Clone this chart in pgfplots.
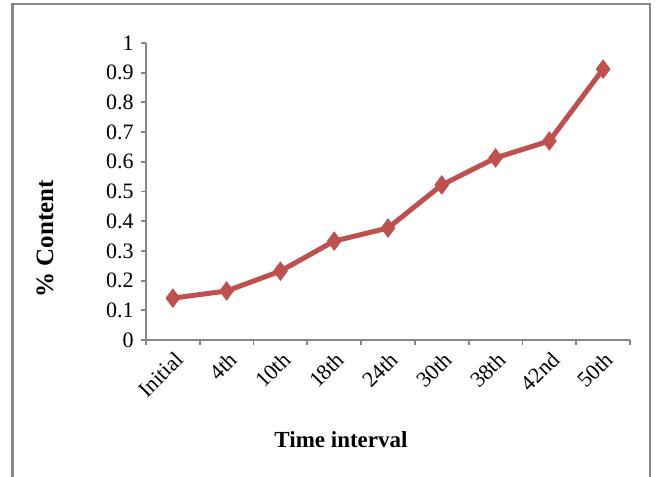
\documentclass[border=0pt]{standalone}
\usepackage{pgfplots}
\pgfplotsset{compat=1.18}
\usepackage{fontspec}
\setmainfont{Liberation Serif}
\definecolor{serred}{RGB}{192,80,77}
\definecolor{axgray}{RGB}{134,134,134}
\begin{document}
\begin{tikzpicture}[x=1pt,y=1pt]
\useasboundingbox (0,0) rectangle (328,238);
% outer chart frame
\draw[axgray, line width=1.1pt] (6.25,-10) -- (6.25,236) -- (325,236) -- (325,-10);
\begin{axis}[
  at={(73pt,68pt)}, anchor=south west,
  scale only axis,
  width=242pt, height=148.5pt,
  xmin=-0.5, xmax=8.5,
  ymin=0, ymax=1,
  axis lines*=left,
  axis line style={axgray, line width=0.9pt},
  xtick={0,...,8},
  xticklabels={Initial,4th,10th,18th,24th,30th,38th,42nd,50th},
  minor xtick={-0.5,0.5,...,8.5},
  major x tick style={draw=none},
  minor tick length=2.5pt,
  major tick length=2.5pt,
  x tick style={axgray, line width=0.9pt},
  y tick style={axgray, line width=0.9pt},
  tick align=outside,
  ytick={0,0.1,...,1},
  yticklabels={0,0.1,0.2,0.3,0.4,0.5,0.6,0.7,0.8,0.9,1},
  xticklabel style={rotate=45, anchor=north east, font=\fontsize{11}{13}\selectfont, inner sep=1pt, xshift=-0.5pt, yshift=-1pt},
  yticklabel style={font=\fontsize{11}{13}\selectfont, inner sep=2pt, xshift=-1.5pt},
  clip=false,
]
\addplot[serred, line width=2.5pt, mark=diamond*, mark size=4.5pt,
  mark options={fill=serred, draw=serred, line width=0.5pt}]
  coordinates {
  (0,0.141) (1,0.165) (2,0.232) (3,0.333) (4,0.377)
  (5,0.522) (6,0.613) (7,0.670) (8,0.912)
  };
\end{axis}
\node[rotate=90, font=\bfseries\fontsize{12.5}{14}\selectfont] at (22.5,118.5) {\% Content};
\node[font=\bfseries\fontsize{11.5}{13}\selectfont] at (170.5,18) {Time interval};
\end{tikzpicture}
\end{document}
